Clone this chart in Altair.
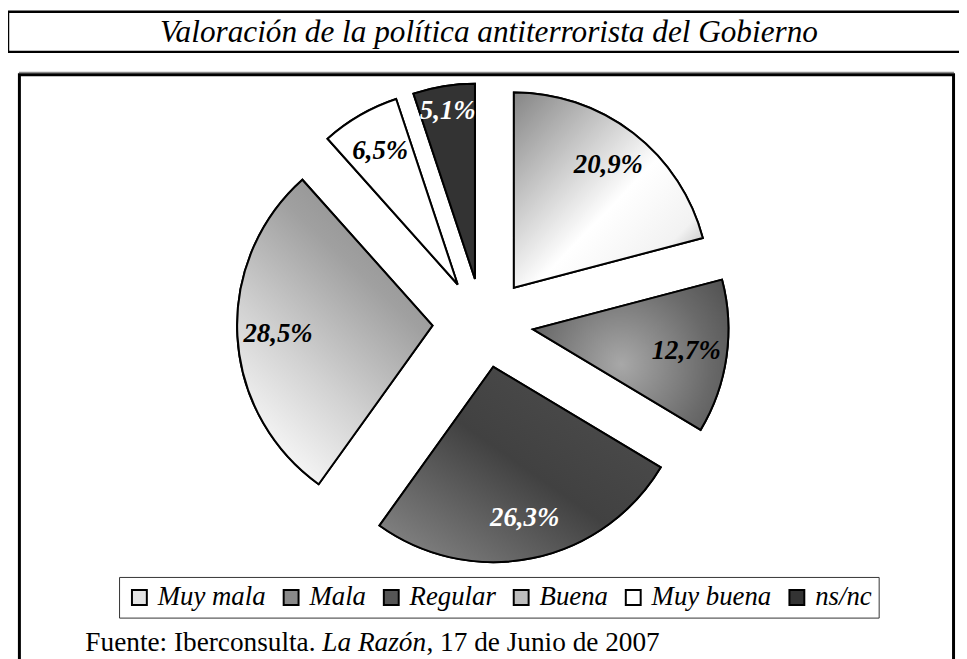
import math
import altair as alt
import pandas as pd

# ---- data ----
cats = ["Muy mala", "Mala", "Regular", "Buena", "Muy buena", "ns/nc"]
values = [20.9, 12.7, 26.3, 28.5, 6.5, 5.1]
labels = [f"{v:.1f}%".replace(".", ",") for v in values]
legend_fill = ["#e4e4e4", "#8a8a8a", "#555555", "#bdbdbd", "#ffffff", "#333333"]

title_text = "Valoración de la política antiterrorista del Gobierno"
src_a = "Fuente: Iberconsulta. "
src_b = "La Razón"
src_c = " , 17 de Junio de 2007"

# ---- gradients for each slice ----
def lin(x1, y1, x2, y2, stops):
    return {"gradient": "linear", "x1": x1, "y1": y1, "x2": x2, "y2": y2,
            "stops": [{"offset": o, "color": c} for o, c in stops]}

def rad(stops, cx=0.5, cy=0.5):
    return {"gradient": "radial", "x1": cx, "y1": cy, "r1": 0, "x2": cx, "y2": cy, "r2": 0.75,
            "stops": [{"offset": o, "color": c} for o, c in stops]}

grads = [
    lin(0, 0, 1, 1, [(0, "#858585"), (0.55, "#ffffff"), (0.8, "#f2f2f2"), (1, "#9a9a9a")]),
    rad([(0, "#a8a8a8"), (0.6, "#6a6a6a"), (1, "#4a4a4a")], cx=0.45, cy=0.55),
    lin(0, 1, 1, 0, [(0, "#8c8c8c"), (0.5, "#414141"), (0.8, "#4a4a4a"), (1, "#7a7a7a")]),
    lin(0.2, 1, 0.8, 0, [(0, "#ffffff"), (0.35, "#d2d2d2"), (0.7, "#a0a0a0"), (1, "#8a8a8a")]),
    "#ffffff",
    "#333333",
]

df = pd.DataFrame({"cat": cats, "value": values, "label": labels,
                   "idx": list(range(len(cats)))})

W, H = 959, 651
CX, CY = 479, 315
EXPLODE_X, EXPLODE_Y = 51, 45
R = 197
SERIF = "Liberation Serif"

base = alt.Chart(df).transform_window(
    end="sum(value)", sort=[alt.SortField("idx")], frame=[None, 0]
).transform_calculate(
    start="datum.end - datum.value",
    mid="datum.end - datum.value / 2",
    ex="sin(2 * PI * (datum.end - datum.value / 2) / 100)",
    ey="cos(2 * PI * (datum.end - datum.value / 2) / 100)",
)

xenc = alt.X("ex:Q", scale=alt.Scale(domain=[-1, 1], range=[CX - EXPLODE_X, CX + EXPLODE_X], nice=False, zero=False), axis=None)
yenc = alt.Y("ey:Q", scale=alt.Scale(domain=[-1, 1], range=[CY + EXPLODE_Y, CY - EXPLODE_Y], nice=False, zero=False), axis=None)
tscale = alt.Scale(domain=[0, 100], range=[0, 2 * math.pi])

flat = base.mark_arc(radius=R, stroke="black", strokeWidth=2).encode(
    x=xenc, y=yenc,
    theta=alt.Theta("start:Q", scale=tscale, stack=None),
    theta2=alt.Theta2("end:Q"),
    color=alt.Color("cat:N", scale=alt.Scale(domain=cats, range=legend_fill),
                    legend=alt.Legend(
                        title=None, orient="none", legendX=112, legendY=571,
                        direction="horizontal", symbolType="square", symbolSize=225,
                        symbolStrokeColor="black", symbolStrokeWidth=2, symbolOpacity=1,
                        labelFont=SERIF, labelFontSize=27, labelFontStyle="italic",
                        labelColor="black", labelOffset=5, columnPadding=12,
                        padding=7, strokeColor="#333333", labelLimit=300)),
)

grad_layers = []
for c, g in zip(cats, grads):
    grad_layers.append(
        base.transform_filter(alt.datum.cat == c).mark_arc(
            radius=R, fill=g, stroke="black", strokeWidth=2
        ).encode(
            x=xenc, y=yenc,
            theta=alt.Theta("start:Q", scale=tscale, stack=None),
            theta2=alt.Theta2("end:Q"),
        )
    )

label_color = alt.condition("datum.cat == 'Regular' || datum.cat == 'ns/nc'",
                            alt.value("white"), alt.value("black"))
text_enc = dict(x=xenc, y=yenc,
                theta=alt.Theta("mid:Q", scale=tscale, stack=None),
                text="label:N", color=label_color)
text_big = base.transform_filter("datum.value >= 6").mark_text(
    radius=156, font=SERIF, fontSize=27, fontStyle="italic", fontWeight="bold",
    align="center", baseline="middle").encode(**text_enc)
text_small = base.transform_filter("datum.value < 6").mark_text(
    radius=172, font=SERIF, fontSize=27, fontStyle="italic", fontWeight="bold",
    align="center", baseline="middle").encode(**text_enc)

deco = alt.Chart(pd.DataFrame({"k": [0]}))
title_box = deco.mark_rect(fill="white", fillOpacity=0, stroke="black", strokeWidth=2.5).encode(
    x=alt.value(0), x2=alt.value(1200), y=alt.value(1), y2=alt.value(41.5))
frame_shadow = deco.mark_rule(color="#8c8c8c", strokeWidth=1.5).encode(
    x=alt.value(11), x2=alt.value(954), y=alt.value(62.2))
frame = deco.mark_rect(fill="white", fillOpacity=0, stroke="black", strokeWidth=3).encode(
    x=alt.value(11.5), x2=alt.value(953.5), y=alt.value(64.5), y2=alt.value(800))
title = deco.mark_text(font=SERIF, fontSize=31.5, fontStyle="italic", align="center",
                       baseline="alphabetic", color="black").encode(
    x=alt.value(485), y=alt.value(31.5), text=alt.value(title_text))
s_a = deco.mark_text(font=SERIF, fontSize=27.5, align="left", baseline="alphabetic", color="black").encode(
    x=alt.value(78), y=alt.value(646), text=alt.value(src_a))
s_b = deco.mark_text(font=SERIF, fontSize=27.5, fontStyle="italic", align="left",
                     baseline="alphabetic", color="black").encode(
    x=alt.value(317), y=alt.value(646), text=alt.value(src_b))
s_c = deco.mark_text(font=SERIF, fontSize=27.5, align="left", baseline="alphabetic", color="black").encode(
    x=alt.value(422), y=alt.value(646), text=alt.value(src_c))

chart = alt.layer(
    title_box, frame_shadow, frame, title, flat, *grad_layers, text_big, text_small, s_a, s_b, s_c
).properties(
    width=W, height=H, padding=0, background="white",
    autosize=alt.AutoSizeParams(type="none"),
).configure_view(stroke=None)

chart.save("out.html", embed_options={"renderer": "svg", "actions": False})
